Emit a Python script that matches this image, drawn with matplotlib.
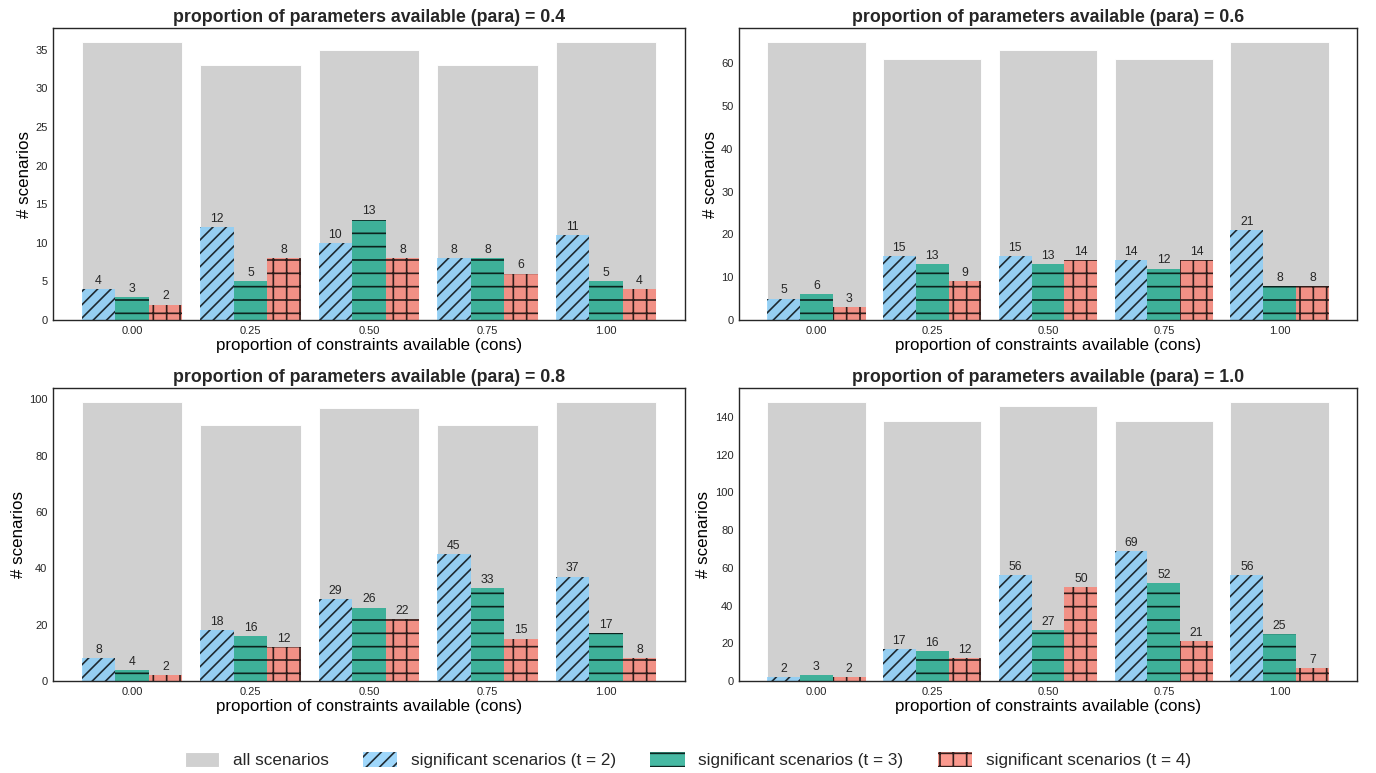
import matplotlib as mpl
mpl.use('Agg')
import matplotlib.pyplot as plt
import numpy as np
from matplotlib.patches import Patch

cons = ['0.00', '0.25', '0.50', '0.75', '1.00']
para = ['0.4', '0.6', '0.8', '1.0']

all_scen = [[36, 33, 35, 33, 36],
            [65, 61, 63, 61, 65],
            [99, 91, 97, 91, 99],
            [148, 138, 146, 138, 148]]
sig_t2 = [[4, 12, 10, 8, 11],
          [5, 15, 15, 14, 21],
          [8, 18, 29, 45, 37],
          [2, 17, 56, 69, 56]]
sig_t3 = [[3, 5, 13, 8, 5],
          [6, 13, 13, 12, 8],
          [4, 16, 26, 33, 17],
          [3, 16, 27, 52, 25]]
sig_t4 = [[2, 8, 8, 6, 4],
          [3, 9, 14, 14, 8],
          [2, 12, 22, 15, 8],
          [2, 12, 50, 21, 7]]

plt.rcParams['font.family'] = ['Liberation Sans', 'DejaVu Sans']
plt.rcParams['hatch.linewidth'] = 1.5
plt.rcParams['text.color'] = '.15'
plt.rcParams['xtick.color'] = '.15'
plt.rcParams['ytick.color'] = '.15'

gray = '#d0d0d0'
blue = '#87cefa'
teal = '#19a88c'
red = '#fa8072'

fig = plt.figure(figsize=(17.2, 9.6625), dpi=80)
W, H = 1376, 773
boxes = [(53, 28, 685, 320), (739, 28, 1357, 320),
         (53, 388, 685, 681), (739, 388, 1357, 681)]

x = np.arange(len(cons))
w = 0.85
sw = w / 3

for i, (x0, y0, x1, y1) in enumerate(boxes):
    ax = fig.add_axes([x0 / W, 1 - y1 / H, (x1 - x0) / W, (y1 - y0) / H])
    ax.bar(x, all_scen[i], w, color=gray, edgecolor='white', linewidth=0.8)
    b2 = ax.bar(x - sw, sig_t2[i], sw, color=blue, alpha=0.8, hatch='//',
                edgecolor='black', linewidth=0)
    b3 = ax.bar(x, sig_t3[i], sw, color=teal, alpha=0.8, hatch='-',
                edgecolor='black', linewidth=0)
    b4 = ax.bar(x + sw, sig_t4[i], sw, color=red, alpha=0.8, hatch='+',
                edgecolor='black', linewidth=0)
    for b in (b2, b3, b4):
        ax.bar_label(b, padding=2, fontsize=11, color='.15')
    ax.set_ylim(0, max(all_scen[i]) * 1.05)
    ax.set_xticks(x)
    ax.set_xticklabels(cons)
    ax.tick_params(length=0, labelsize=10, pad=5)
    for s in ax.spines.values():
        s.set_color('.15')
        s.set_linewidth(1.25)
    ax.set_title('proportion of parameters available (para) = ' + para[i],
                 fontsize=16, fontweight='bold', pad=5)
    ax.set_xlabel('proportion of constraints available (cons)', fontsize=15.2, labelpad=2)
    ax.set_ylabel('# scenarios', fontsize=15.2, labelpad=3)

handles = [Patch(facecolor=gray, edgecolor='white'),
           Patch(facecolor=blue, alpha=0.8, hatch='//', edgecolor='black', linewidth=0),
           Patch(facecolor=teal, alpha=0.8, hatch='-', edgecolor='black', linewidth=0),
           Patch(facecolor=red, alpha=0.8, hatch='+', edgecolor='black', linewidth=0)]
labels = ['all scenarios', 'significant scenarios (t = 2)',
          'significant scenarios (t = 3)', 'significant scenarios (t = 4)']
fig.legend(handles, labels, loc='center', bbox_to_anchor=(0.5, 0.017), ncol=4,
           frameon=False, fontsize=15.4, handlelength=2.0, handleheight=1.0,
           columnspacing=2.0)

fig.savefig('out.png', dpi=80)
